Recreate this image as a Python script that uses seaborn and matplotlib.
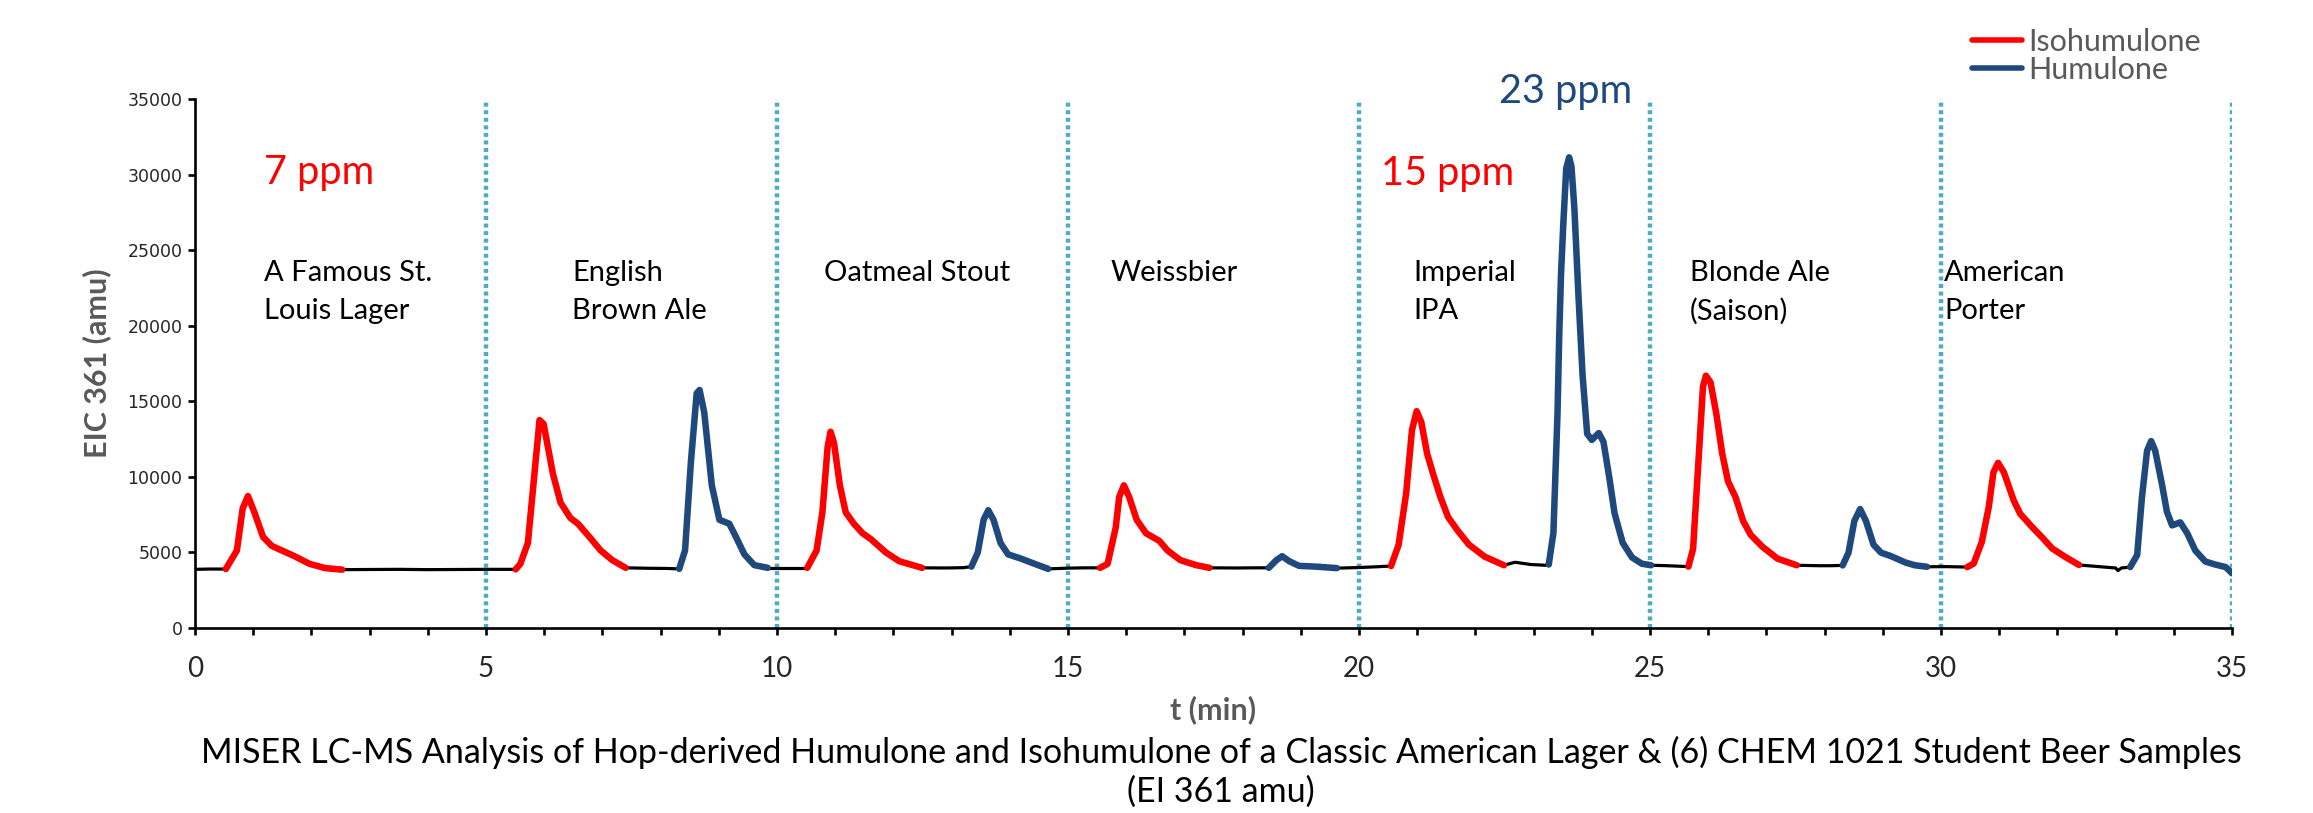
import numpy as np
import pandas as pd
import matplotlib
matplotlib.use("Agg")
import matplotlib.pyplot as plt
from matplotlib.lines import Line2D
from matplotlib.ticker import MultipleLocator
import seaborn as sns

# EIC 361 trace (t in min, intensity in amu)
# kind: B = baseline (black), I = isohumulone (red), H = humulone (blue)
time_min = [
    0.00, 0.25, 0.53,
    0.53, 0.72, 0.82, 0.91, 1.02, 1.17, 1.32, 1.71, 1.97, 2.24,
    2.53, 3.00, 3.50, 4.00, 4.50, 5.00,
    5.51, 5.59, 5.72, 5.82, 5.92, 5.99, 6.15, 6.28, 6.45, 6.58, 6.78, 6.97, 7.17,
    7.40, 7.80, 8.10,
    8.32, 8.42, 8.52, 8.62, 8.67, 8.75, 8.88, 9.01, 9.18, 9.28, 9.44, 9.61,
    9.84, 10.20,
    10.52, 10.68, 10.78, 10.87, 10.92, 10.98, 11.08, 11.18, 11.32, 11.47, 11.61, 11.87, 12.10,
    12.49, 12.90, 13.20,
    13.34, 13.45, 13.55, 13.63, 13.72, 13.84, 13.97, 14.17, 14.43,
    14.66, 15.00, 15.30,
    15.55, 15.68, 15.82, 15.88, 15.96, 16.05, 16.18, 16.34, 16.57, 16.71, 16.93, 17.20,
    17.43, 17.90, 18.20,
    18.45, 18.58, 18.68, 18.80, 18.97, 19.26,
    19.62, 20.00, 20.30,
    20.55, 20.68, 20.81, 20.91, 20.99, 21.07, 21.17, 21.27, 21.40, 21.53, 21.70, 21.89, 22.16,
    22.49, 22.68, 22.95, 23.20,
    23.26, 23.34, 23.41, 23.44, 23.47, 23.51, 23.56, 23.61, 23.65, 23.70, 23.77, 23.84, 23.92,
    24.00, 24.12, 24.20, 24.30, 24.39, 24.53, 24.69, 24.86,
    25.02, 25.30,
    25.66, 25.74, 25.84, 25.91, 25.96, 26.04, 26.14, 26.24, 26.34, 26.47, 26.60, 26.73, 26.93, 27.19,
    27.52, 27.90, 28.10,
    28.31, 28.41, 28.51, 28.61, 28.71, 28.84, 28.97, 29.13, 29.39, 29.55,
    29.76, 30.10,
    30.45, 30.56, 30.70, 30.82, 30.90, 30.98, 31.08, 31.25, 31.36, 31.56, 31.74, 31.91, 32.14,
    32.37, 32.71, 33.00, 33.04, 33.10,
    33.25, 33.37, 33.45, 33.54, 33.61, 33.68, 33.80, 33.88, 33.97, 34.11, 34.23, 34.37, 34.54,
    34.71, 34.89, 35.00,
]
eic_amu = [
    3880, 3900, 3900,
    3900, 5130, 7920, 8730, 7660, 6020, 5430, 4750, 4240, 3960,
    3860, 3870, 3880, 3860, 3870, 3880,
    3880, 4240, 5630, 9700, 13760, 13500, 10200, 8300, 7280, 6900, 6010, 5130, 4490,
    3980, 3950, 3940,
    3910, 5130, 10960, 15530, 15750, 14260, 9440, 7160, 6900, 6140, 4870, 4160,
    3980, 3980,
    3980, 5130, 7660, 11980, 12990, 12230, 9440, 7660, 6900, 6270, 5890, 5000, 4420,
    3980, 3970, 3990,
    4060, 5000, 7160, 7790, 7160, 5630, 4870, 4620, 4240,
    3910, 3960, 3980,
    3980, 4240, 6650, 8680, 9440, 8680, 7160, 6270, 5760, 5130, 4490, 4160,
    3980, 3970, 3980,
    3980, 4490, 4750, 4420, 4110, 4060,
    3960, 4000, 4050,
    4100, 5500, 8910, 13110, 14350, 13630, 11540, 10230, 8650, 7340, 6420, 5510, 4720,
    4150, 4350, 4200, 4150,
    4200, 6290, 14160, 19400, 23340, 26740, 30420, 31150, 30550, 27790, 22020, 16780, 12850,
    12450, 12900, 12320, 9960, 7600, 5640, 4670, 4250,
    4150, 4120,
    4060, 5240, 11540, 15990, 16700, 16250, 14160, 11540, 9700, 8650, 7080, 6160, 5380, 4590,
    4150, 4120, 4120,
    4140, 4980, 7080, 7870, 7080, 5510, 4980, 4770, 4330, 4150,
    4050, 4060,
    4030, 4260, 5690, 8000, 10300, 10930, 10300, 8430, 7560, 6700, 5980, 5260, 4690,
    4170, 4060, 3970, 3800, 3970,
    4030, 4830, 8570, 11730, 12370, 11730, 9430, 7710, 6790, 6990, 6270, 5120, 4400,
    4200, 4030, 3620,
]
trace_kind = (
    ["B"] * 3 + ["I"] * 10 + ["B"] * 6 + ["I"] * 13 + ["B"] * 3 + ["H"] * 12 + ["B"] * 2
    + ["I"] * 13 + ["B"] * 3 + ["H"] * 9 + ["B"] * 3 + ["I"] * 12 + ["B"] * 3 + ["H"] * 6
    + ["B"] * 3 + ["I"] * 13 + ["B"] * 4 + ["H"] * 21 + ["B"] * 2 + ["I"] * 14 + ["B"] * 3
    + ["H"] * 10 + ["B"] * 2 + ["I"] * 13 + ["B"] * 5 + ["H"] * 16
)
assert len(time_min) == len(eic_amu) == len(trace_kind)

sample_names = ["A Famous St.\nLouis Lager", "English\nBrown Ale", "Oatmeal Stout", "Weissbier",
                "Imperial\nIPA", "Blonde Ale\n(Saison)", "American\nPorter"]
sample_label_t = [1.19, 6.48, 10.81, 15.73, 20.93, 25.69, 30.05]
sample_bounds = [5, 10, 15, 20, 25, 30, 35]

conc_labels = ["7 ppm", "15 ppm", "23 ppm"]
conc_t = [1.19, 20.38, 22.4]
conc_y = [30150, 30100, 35500]
conc_kind = ["I", "I", "H"]

RED = "#FF0000"
BLUE = "#1F497D"
GREY = "#595959"
AQUA = "#4BACC6"
colors = {"B": "black", "I": RED, "H": BLUE}

# split the trace into runs of the same kind, each run joined to the next
rows = []
run = 0
for i in range(len(time_min)):
    if i > 0 and trace_kind[i] != trace_kind[i - 1]:
        rows.append((run, trace_kind[i - 1], time_min[i], eic_amu[i]))
        run += 1
    rows.append((run, trace_kind[i], time_min[i], eic_amu[i]))
df = pd.DataFrame(rows, columns=["run", "kind", "t", "eic"])

sns.set_theme(style="white")
plt.rcParams["font.family"] = ["Lato", "DejaVu Sans"]

fig = plt.figure(figsize=(23.13, 8.13), dpi=100)
ax = fig.add_axes([0.0843, 0.2276, 0.8807, 0.6504])

for x in sample_bounds:
    ax.axvline(x, color=AQUA, lw=3.2, linestyle=(0, (0.9, 0.8)), zorder=1)

sns.lineplot(data=df, x="t", y="eic", hue="kind", size="kind", units="run", estimator=None,
             sort=False, palette=colors, sizes={"B": 2.3, "I": 4.7, "H": 4.7},
             legend=False, ax=ax, zorder=3, solid_joinstyle="round", solid_capstyle="round")

ax.set_xlim(0, 35)
ax.set_ylim(0, 35000)
ax.xaxis.set_major_locator(MultipleLocator(5))
ax.xaxis.set_minor_locator(MultipleLocator(1))
ax.yaxis.set_major_locator(MultipleLocator(5000))
sns.despine(ax=ax)
for s in ["left", "bottom"]:
    ax.spines[s].set_color("black")
    ax.spines[s].set_linewidth(1.9)
ax.tick_params(axis="x", which="both", direction="out", length=5, width=1.9, color="black",
               bottom=True, labelsize=20, pad=15)
ax.tick_params(axis="y", which="major", direction="out", length=5, width=1.9, color="black",
               left=True, pad=4)
for lab in ax.get_yticklabels():
    lab.set_fontfamily("DejaVu Sans")
    lab.set_fontsize(12.5)

ax.set_xlabel("t (min)", fontsize=22, fontweight="bold", color=GREY, labelpad=10)
ax.set_ylabel("EIC 361 (amu)", fontsize=22, fontweight="bold", color=GREY, labelpad=12)

for name, t in zip(sample_names, sample_label_t):
    ax.text(t, 24350, name, fontsize=21, color="black", va="top", ha="left", linespacing=1.55)

for lab, t, y, k in zip(conc_labels, conc_t, conc_y, conc_kind):
    ax.text(t, y, lab, fontsize=28.5, color=colors[k], va="center", ha="left", clip_on=False)

handles = [Line2D([], [], color=RED, lw=4), Line2D([], [], color=BLUE, lw=4)]
fig.legend(handles, ["Isohumulone", "Humulone"], loc="upper left",
           bbox_to_anchor=(1972 / 2313, 1 - 28 / 813), frameon=False, fontsize=22,
           labelcolor=GREY, handlelength=1.65, handletextpad=0.2, labelspacing=0.0,
           borderpad=0, borderaxespad=0)

fig.text(1221 / 2313, 1 - 772 / 813,
         "MISER LC-MS Analysis of Hop-derived Humulone and Isohumulone of a Classic American Lager & (6) CHEM 1021 Student Beer Samples\n(EI 361 amu)",
         ha="center", va="center", fontsize=24.5, color="black", linespacing=1.25)

fig.savefig("out.png", dpi=100)
